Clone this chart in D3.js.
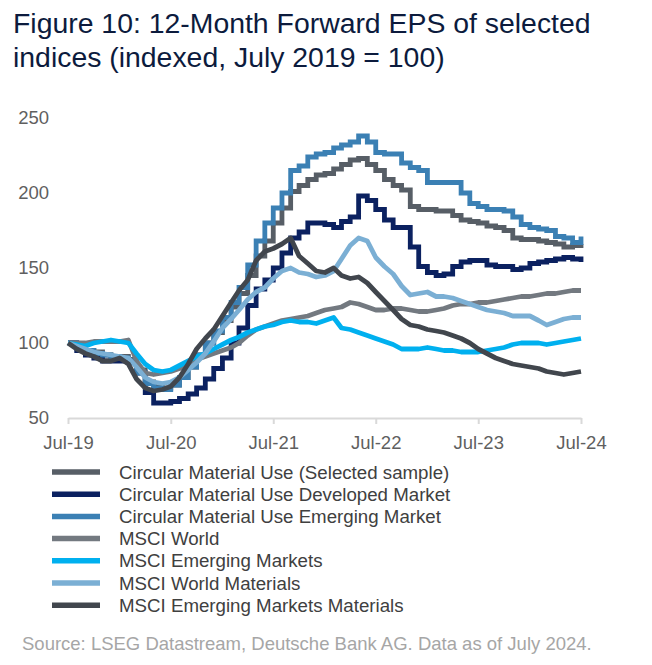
<!DOCTYPE html>
<html>
<head>
<meta charset="utf-8">
<script src="https://cdn.jsdelivr.net/npm/d3@7"></script>
<style>
  html, body { margin: 0; padding: 0; background: #ffffff; }
  svg { display: block; }
  text { font-family: "Liberation Sans", Arial, sans-serif; }
</style>
</head>
<body>
<svg id="chart" width="652" height="665"></svg>
<script>
// ---- Data (monthly, Jul 2019 .. Jul 2024, indexed July 2019 = 100) ----
const startMonth = "2019-07";
const endMonth = "2024-07";

const seriesNames = [
  "Circular Material Use (Selected sample)",
  "Circular Material Use Developed Market",
  "Circular Material Use Emerging Market",
  "MSCI World",
  "MSCI Emerging Markets",
  "MSCI World Materials",
  "MSCI Emerging Markets Materials"
];

const cmuSelected = [100,97,95,94,92,91,91,89,82,74,71,70,72,77,84,92,100,107,115,124,133,145,158,168,180,190,201,205,209,212,213,216,219,222,223,219,215,209,205,202,191,189,189,188,188,185,182,181,180,178,177,175,170,169,169,168,167,166,164,165,166];
const cmuDeveloped = [100,95,92,90,88,88,88,87,80,67,60,60,61,63,66,70,76,83,90,100,110,125,136,142,150,160,170,174,180,180,179,177,181,184,198,195,189,182,177,177,164,151,147,145,146,151,154,155,155,152,151,151,149,150,153,154,155,156,157,156,154];
const cmuEmerging = [100,97,95,93,92,91,90,88,80,73,70,69,72,77,84,92,100,108,117,127,137,152,168,180,190,200,215,218,224,226,227,230,232,234,238,234,227,226,226,220,217,215,207,207,207,207,200,193,191,189,189,188,184,179,177,176,175,171,170,167,171];
const msciWorld = [100,100,100,101,101,101,101,102,88,80,79,80,81,83,86,89,91,93,95,97,100,105,109,111,113,115,116,117,118,120,122,123,124,127,126,124,122,122,123,123,122,121,121,122,123,125,126,126,127,127,128,129,130,131,131,132,133,133,134,135,135];
const msciEM = [100,99,98,100,101,102,101,100,93,86,82,81,82,85,88,91,93,96,99,102,104,107,109,111,112,114,115,114,114,113,115,117,110,109,107,105,103,101,99,96,96,96,97,96,95,95,94,94,94,95,96,97,99,100,100,100,99,100,101,102,103];
const msciWorldMaterials = [100,98,96,94,93,92,91,90,84,77,74,73,74,77,82,87,93,101,110,116,122,129,134,137,143,148,150,147,146,144,145,148,156,165,170,168,157,151,146,138,132,133,134,131,131,130,128,126,124,122,121,120,118,118,118,115,112,114,116,117,117];
const msciEMMaterials = [100,96,93,91,88,88,90,86,76,70,68,69,71,77,86,96,103,109,118,127,135,142,155,161,163,166,170,158,153,148,147,150,145,143,144,140,134,128,122,116,112,111,109,108,107,105,103,100,96,93,90,88,86,85,84,83,81,80,79,80,81];

const seriesValues = [cmuSelected, cmuDeveloped, cmuEmerging, msciWorld, msciEM, msciWorldMaterials, msciEMMaterials];
const seriesColors = ["#575e66", "#0b2160", "#3b80b4", "#737980", "#00b0ef", "#7bafd4", "#41464d"];
const seriesStepped = [true, true, true, false, false, false, false];

const yTicks = [50, 100, 150, 200, 250];
const xTickYears = [2019, 2020, 2021, 2022, 2023, 2024];

const titleLines = ["Figure 10: 12-Month Forward EPS of selected", "indices (indexed, July 2019 = 100)"];
const sourceText = "Source: LSEG Datastream, Deutsche Bank AG. Data as of July 2024.";

// ---- Layout ----
const svg = d3.select("#chart");
const plot = { left: 68, right: 581, top: 118, bottom: 418 };

const parseMonth = d3.timeParse("%Y-%m");
const months = d3.timeMonth.range(parseMonth(startMonth), d3.timeMonth.offset(parseMonth(endMonth), 1));

const x = d3.scaleTime()
  .domain([parseMonth(startMonth), parseMonth(endMonth)])
  .range([plot.left, plot.right]);
const y = d3.scaleLinear()
  .domain([50, 250])
  .range([plot.bottom, plot.top]);

// Title
svg.append("g").selectAll("text").data(titleLines).join("text")
  .attr("x", 13)
  .attr("y", (d, i) => 33 + i * 34)
  .attr("font-size", 28.4)
  .attr("fill", "#0c1b3d")
  .text(d => d);

// Y axis (labels only)
const yAxis = d3.axisLeft(y).tickValues(yTicks).tickSize(0).tickPadding(0).tickFormat(d3.format("d"));
const gy = svg.append("g").attr("transform", `translate(49,0)`).call(yAxis);
gy.select(".domain").remove();
gy.selectAll("text").attr("font-size", 18.5).attr("fill", "#5f5f5f").attr("font-family", "Liberation Sans, Arial, sans-serif");

// X axis
const xAxis = d3.axisBottom(x)
  .tickValues(xTickYears.map(yr => new Date(yr, 6, 1)))
  .tickFormat(d3.timeFormat("%b-%y"))
  .tickSize(6)
  .tickSizeOuter(0)
  .tickPadding(12);
const gx = svg.append("g").attr("transform", `translate(0,${plot.bottom})`).call(xAxis);
gx.select(".domain").attr("stroke", "#d9d9d9").attr("stroke-width", 2);
gx.selectAll(".tick line").attr("stroke", "#d9d9d9").attr("stroke-width", 2);
gx.selectAll("text").attr("font-size", 18.5).attr("fill", "#5f5f5f").attr("font-family", "Liberation Sans, Arial, sans-serif");

// Lines
const linesG = svg.append("g");
seriesValues.forEach((vals, i) => {
  const data = vals.map((v, j) => ({ date: months[j], value: v }));
  const line = d3.line()
    .x(d => x(d.date))
    .y(d => y(d.value))
    .curve(seriesStepped[i] ? d3.curveStepAfter : d3.curveLinear);
  linesG.append("path")
    .datum(data)
    .attr("fill", "none")
    .attr("stroke", seriesColors[i])
    .attr("stroke-width", 4.8)
    .attr("stroke-linejoin", seriesStepped[i] ? "miter" : "round")
    .attr("stroke-linecap", "butt")
    .attr("d", line);
});

// Legend
const legend = svg.append("g");
seriesNames.forEach((name, i) => {
  const ly = 472 + i * 22.2;
  legend.append("line")
    .attr("x1", 52).attr("x2", 100)
    .attr("y1", ly).attr("y2", ly)
    .attr("stroke", seriesColors[i])
    .attr("stroke-width", 5.5);
  legend.append("text")
    .attr("x", 119)
    .attr("y", ly)
    .attr("dy", "0.35em")
    .attr("font-size", 18.7)
    .attr("fill", "#404040")
    .text(name);
});

// Source
svg.append("text")
  .attr("x", 22)
  .attr("y", 650)
  .attr("font-size", 18.5)
  .attr("fill", "#a6a6a6")
  .text(sourceText);
</script>
</body>
</html>
